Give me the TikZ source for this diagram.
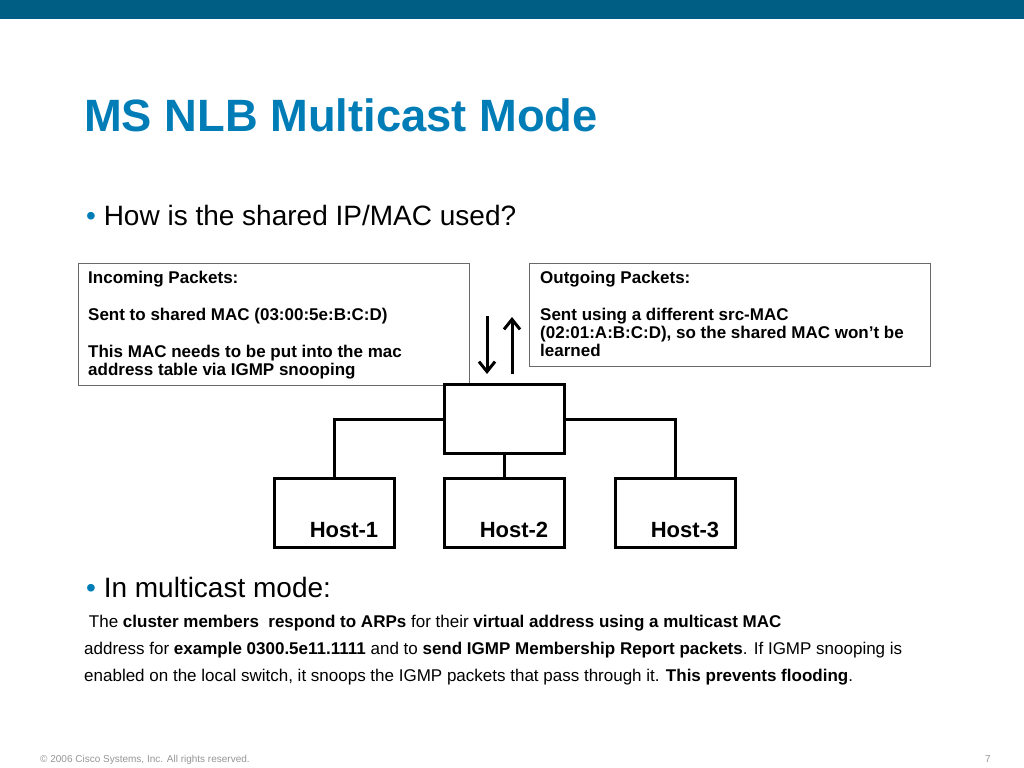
\documentclass[tikz,border=0pt]{standalone}
\usepackage{fontspec}
\setmainfont{Liberation Sans}
\usetikzlibrary{arrows.meta}

\definecolor{ciscobar}{RGB}{0,94,133}
\definecolor{ciscoblue}{RGB}{0,125,182}
\definecolor{boxgray}{RGB}{105,105,105}
\definecolor{footgray}{RGB}{150,150,150}

\begin{document}
\begin{tikzpicture}[x=1bp,y=-1bp,
    infobox/.style={draw=boxgray,line width=1bp,fill=white,inner sep=0pt,anchor=north west},
    netbox/.style={draw=black,line width=3bp,fill=white,inner sep=0pt,anchor=north west,
      minimum width=120bp,minimum height=69bp},
    wire/.style={line width=3bp},
    flow/.style={line width=3bp,-{Straight Barb[length=10bp,width=16bp,line width=3bp]}},
    textline/.style={anchor=base west,inner sep=0pt},
    boxtext/.style={textline,font=\fontsize{17bp}{20bp}\selectfont\bfseries},
    bodytext/.style={textline,font=\fontsize{17bp}{20bp}\selectfont},
    bullettext/.style={textline,font=\fontsize{28bp}{32bp}\selectfont}]
     \useasboundingbox (0,0) rectangle (1024,768);
     \fill[white] (0,0) rectangle (1024,768);
     % Kopfleiste
     \fill[ciscobar] (0,0) rectangle (1024,19);

     \node[textline,font=\fontsize{45.3bp}{50bp}\selectfont\bfseries,text=ciscoblue] (title) at (84,131) {MS NLB Multicast Mode};
     \node[bullettext] (question) at (86,225) {\textcolor{ciscoblue}{•} How is the shared IP/MAC used?};

     % Textkaesten
     \node[infobox,minimum width=391bp,minimum height=122bp] (inbox) at (78,263) {};
     \node[infobox,minimum width=401bp,minimum height=103bp] (outbox) at (529,263) {};
     \foreach \y/\txt in {283/Incoming Packets:,320/Sent to shared MAC (03:00:5e:B:C:D),
                          357/This MAC needs to be put into the mac,375/address table via IGMP snooping}
     {
       \node[boxtext] (in\y) at (88,\y) {\txt};
     }
     \foreach \y/\txt in {283/Outgoing Packets:,320/Sent using a different src-MAC,
                          338/{(02:01:A:B:C:D), so the shared MAC won’t be},356/learned}
     {
       \node[boxtext] (out\y) at (540,\y) {\txt};
     }

     % Switch und Hosts
     \node[netbox] (switch) at (443,383) {};
     \foreach \x/\n in {273/1,443/2,614/3}
     {
       \node[netbox] (host\n) at (\x,477) {};
       \node[anchor=base,inner sep=0pt,font=\fontsize{22bp}{26bp}\selectfont\bfseries] (hostlabel\n) at (\x+71,537) {Host-\n};
     }
     \draw[wire] (switch.west) -| (host1.north);
     \draw[wire] (switch.east) -| (host3.north);
     \draw[wire] (switch.south) -- (host2.north);

     \coordinate (downstart) at (487,316);
     \coordinate (downend) at (487,374);
     \coordinate (upstart) at (512,374);
     \coordinate (upend) at (512,317);
     \draw[flow] (downstart) -- (downend);
     \draw[flow] (upstart) -- (upend);

     % Erklaerung unten
     \node[bullettext] (multicast) at (86,597) {\textcolor{ciscoblue}{•} In multicast mode:};
     \node[bodytext] (body1) at (84,627) {~The \textbf{cluster members~ respond to ARPs} for their \textbf{virtual address using a multicast MAC}};
     \node[bodytext] (body2) at (84,654) {address for \textbf{example 0300.5e11.1111} and to \textbf{send IGMP Membership Report packets}. If IGMP snooping is};
     \node[bodytext] (body3) at (84,681) {enabled on the local switch, it snoops the IGMP packets that pass through it. \textbf{This prevents flooding}.};

     \node[textline,font=\fontsize{10bp}{12bp}\selectfont,text=footgray] (copyright) at (40,762) {© 2006 Cisco Systems, Inc. All rights reserved.};
     \node[anchor=base east,inner sep=0pt,font=\fontsize{10bp}{12bp}\selectfont,text=footgray] (pagenum) at (991,762) {7};
   \end{tikzpicture}
\end{document}
